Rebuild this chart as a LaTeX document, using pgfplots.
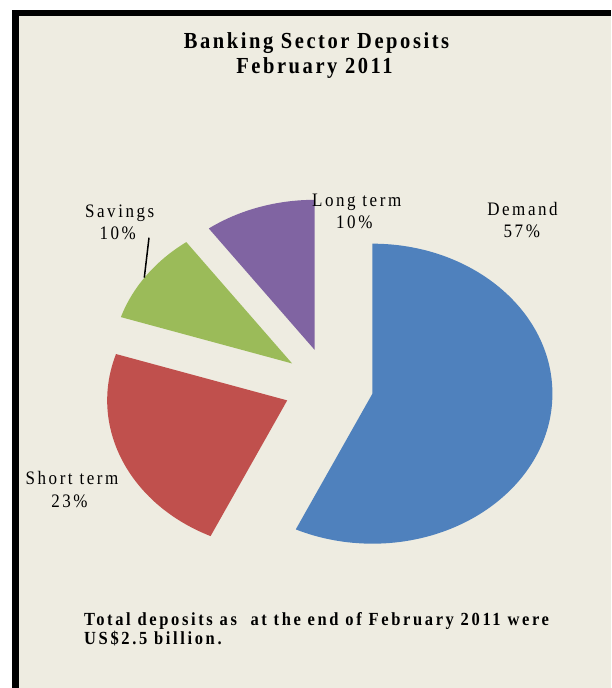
\documentclass[border=0pt]{standalone}
\usepackage{pgfplots}
\pgfplotsset{compat=1.18}
\usepackage{fontspec}
\setmainfont{Liberation Serif}
\newfontfamily\titlefont{Liberation Serif}[LetterSpace=12.5]
\newfontfamily\labfont{Liberation Serif}[LetterSpace=15]
\newfontfamily\notefont{Liberation Serif}[LetterSpace=16]
\definecolor{bgc}{HTML}{EEECE1}
\definecolor{demandc}{HTML}{4F81BD}
\definecolor{shortc}{HTML}{C0504D}
\definecolor{savc}{HTML}{9BBB59}
\definecolor{longc}{HTML}{8064A2}
% pie geometry (axis units = pt)
\def\cx{328.5}\def\cy{302.5}\def\rx{180}\def\ry{150}\def\ex{0.25}
% #1 cumulative start (percent), #2 share (percent), #3 colour
\newcommand\pieslice[3]{%
  \fill[#3] (axis cs:{\cx+\ex*\rx*cos(90-3.6*(#1+#2/2))},{\cy+\ex*\ry*sin(90-3.6*(#1+#2/2))})
    -- (axis cs:{\cx+\ex*\rx*cos(90-3.6*(#1+#2/2))+\rx*cos(90-3.6*#1)},{\cy+\ex*\ry*sin(90-3.6*(#1+#2/2))+\ry*sin(90-3.6*#1)})
    arc[start angle={90-3.6*#1}, end angle={90-3.6*(#1+#2)}, x radius=\rx pt, y radius=\ry pt]
    -- cycle;}
\newcommand\lab[1]{\scalebox{1}[1.12]{\labfont\fontsize{17}{17}\selectfont #1}}
\newcommand\ttl[1]{\scalebox{1}[1.12]{\titlefont\bfseries\fontsize{20.5}{20.5}\selectfont #1}}
\newcommand\note[1]{\scalebox{1}[1.12]{\notefont\bfseries\fontsize{16.5}{16.5}\selectfont #1}}
\begin{document}
\begin{tikzpicture}
\begin{axis}[width=611pt,height=688pt,scale only axis,
  xmin=0,xmax=611,ymin=0,ymax=688,hide axis,clip=false]
\fill[white] (axis cs:0,0) rectangle (axis cs:611,688);
\fill[black] (axis cs:12,0) rectangle (axis cs:611,678);
\fill[bgc] (axis cs:18.5,0) rectangle (axis cs:611,672);
% slices: Demand 57, Short term 23, Savings 10, Long term 10
\pieslice{0}{57}{demandc}
\pieslice{57}{23}{shortc}
\pieslice{80}{10}{savc}
\pieslice{90}{10}{longc}
% titles
\node[anchor=base,inner sep=0] at (axis cs:316.5,639) {\ttl{Banking Sector Deposits}};
\node[anchor=base,inner sep=0] at (axis cs:314.5,614.7) {\ttl{February 2011}};
% labels
\node[anchor=base,inner sep=0] at (axis cs:522.5,472) {\lab{Demand}};
\node[anchor=base,inner sep=0] at (axis cs:521.8,450.3) {\lab{57\%}};
\node[anchor=base,inner sep=0] at (axis cs:356.7,481.3) {\lab{Long term}};
\node[anchor=base,inner sep=0] at (axis cs:354.3,459.7) {\lab{10\%}};
\node[anchor=base,inner sep=0] at (axis cs:119.7,470.7) {\lab{Savings}};
\node[anchor=base,inner sep=0] at (axis cs:117.7,448) {\lab{10\%}};
\node[anchor=base,inner sep=0] at (axis cs:72,203.7) {\lab{Short term}};
\node[anchor=base,inner sep=0] at (axis cs:69.5,180.3) {\lab{23\%}};
\draw[black,line width=1.5pt] (axis cs:149,450.3) -- (axis cs:144.3,410.3);
% note
\node[anchor=base west,inner sep=0] at (axis cs:84,62.3) {\note{Total deposits as~ at the end of February 2011 were}};
\node[anchor=base west,inner sep=0] at (axis cs:84,43) {\note{US\$2.5 billion.}};
\end{axis}
\end{tikzpicture}
\end{document}
